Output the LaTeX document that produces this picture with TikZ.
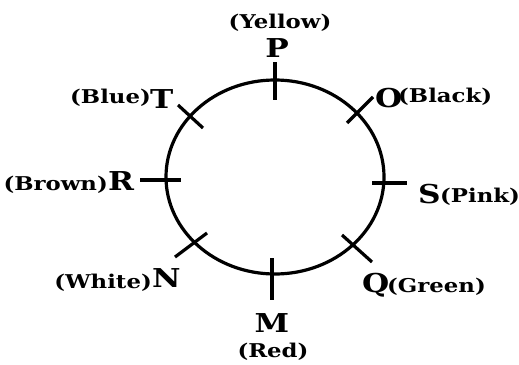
\documentclass[tikz,border=0pt]{standalone}
\usepackage{fontspec}
\setmainfont{DejaVu Serif}
\newfontfamily\labfont[FakeStretch=1.2]{DejaVu Serif}
\usetikzlibrary{shapes.geometric}
\tikzset{
  ring/.style={draw, ellipse, line width=3.2pt, minimum width=218pt, minimum height=194pt, inner sep=0pt},
  tick/.style={line width=3.2pt},
  letter/.style={inner sep=0pt, font=\labfont\bfseries\fontsize{26pt}{26pt}\selectfont},
  colour/.style={inner sep=0pt, font=\labfont\bfseries\fontsize{19pt}{19pt}\selectfont},
}
\begin{document}
\begin{tikzpicture}[x=1pt,y=-1pt]
\useasboundingbox (0,0) rectangle (519,364);
\node[ring] (circ) at (275,177) {};
% tick end points
\coordinate (p1) at (275,62);  \coordinate (p2) at (275,100);
\coordinate (o1) at (347,123); \coordinate (o2) at (373,97);
\coordinate (s1) at (372,183); \coordinate (s2) at (407,183);
\coordinate (q1) at (342,235); \coordinate (q2) at (372,262);
\coordinate (m1) at (272,258); \coordinate (m2) at (272,300);
\coordinate (n1) at (175,257); \coordinate (n2) at (207,233);
\coordinate (r1) at (140,180); \coordinate (r2) at (181,180);
\coordinate (t1) at (178,105); \coordinate (t2) at (203,128);
\draw[tick] (p1) -- (p2);
\draw[tick] (o1) -- (o2);
\draw[tick] (s1) -- (s2);
\draw[tick] (q1) -- (q2);
\draw[tick] (m1) -- (m2);
\draw[tick] (n1) -- (n2);
\draw[tick] (r1) -- (r2);
\draw[tick] (t1) -- (t2);
% labels
\node[colour, anchor=base] (yel) at (280,28) {(Yellow)};
\node[letter, anchor=base] (P) at (277,57) {P};
\node[letter, anchor=base west] (T) at (150,108) {T};
\node[colour, anchor=base east] (blue) at (151,103) {(Blue)};
\node[letter, anchor=base west] (O) at (375,107) {O};
\node[colour, anchor=base west] (black) at (398,102) {(Black)};
\node[letter, anchor=base west] (R) at (108,190) {R};
\node[colour, anchor=base east] (brown) at (108,190) {(Brown)};
\node[letter, anchor=base west] (S) at (418,203) {S};
\node[colour, anchor=base west] (pink) at (440,202) {(Pink)};
\node[letter, anchor=base west] (N) at (152,287) {N};
\node[colour, anchor=base east] (white) at (152,288) {(White)};
\node[letter, anchor=base west] (Q) at (362,292) {Q};
\node[colour, anchor=base west] (green) at (387,292) {(Green)};
\node[letter, anchor=base] (M) at (272,332) {M};
\node[colour, anchor=base] (red) at (273,357) {(Red)};
\end{tikzpicture}
\end{document}
